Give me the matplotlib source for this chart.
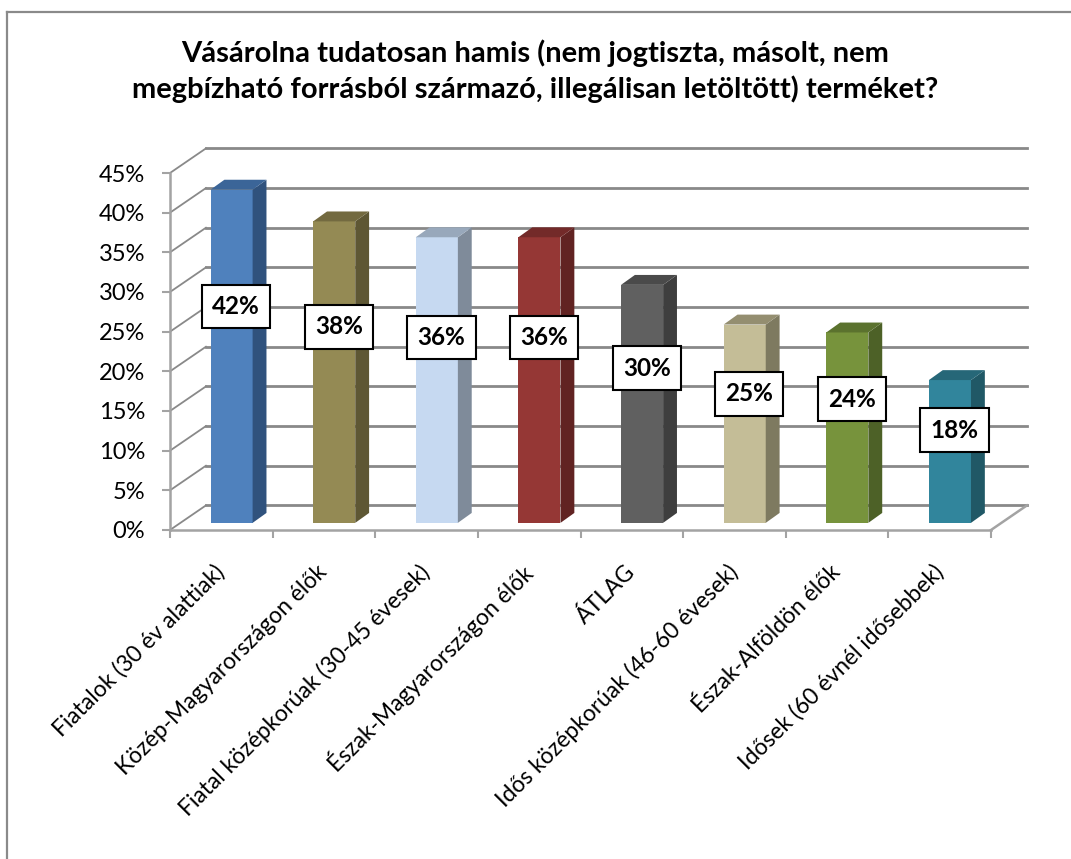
import matplotlib
matplotlib.use("Agg")
import matplotlib.pyplot as plt
from matplotlib.patches import Polygon, Rectangle
from matplotlib.lines import Line2D

plt.rcParams['font.family'] = ['Lato', 'DejaVu Sans']

title = ("Vásárolna tudatosan hamis (nem jogtiszta, másolt, nem\n"
         "megbízható forrásból származó, illegálisan letöltött) terméket?")
categories = ["Fiatalok (30 év alattiak)", "Közép-Magyarországon élők",
              "Fiatal középkorúak (30-45 évesek)", "Észak-Magyarországon élők",
              "ÁTLAG", "Idős középkorúak (46-60 évesek)", "Észak-Alföldön élők",
              "Idősek (60 évnél idősebbek)"]
values = [42, 38, 36, 36, 30, 25, 24, 18]
front_colors = ["#4f81bd", "#948a54", "#c6d9f1", "#953735",
                "#606060", "#c4bd97", "#77933c", "#31859c"]
side_colors = ["#30527d", "#5e5734", "#7f8b9a", "#612322",
               "#3e3e3e", "#7e7a60", "#4d6127", "#205866"]
top_colors = ["#3b6598", "#736a40", "#98a8bb", "#732a29",
              "#4a4a4a", "#948e70", "#5b722e", "#266778"]
yticks = [0, 5, 10, 15, 20, 25, 30, 35, 40, 45]

grid_c = "#898989"
axis_c = "#a3a3a3"

# depth of the 3d box (category units / percent units)
ddx, ddy = 0.35, 3.1
# bars sit a bit behind the front plane
fdx, fdy = 0.10, 0.9
bw = 0.41
bdx, bdy = 0.135, 1.25

fig = plt.figure(figsize=(10.71, 8.59), dpi=100)
ax = fig.add_axes([170 / 1071, 1 - 530 / 859, 821 / 1071, 357 / 859])
ax.set_xlim(0, len(categories))
ax.set_ylim(0, 45)
n = len(categories)

# back wall, side wall and floor
for y in yticks:
    ax.add_line(Line2D([ddx, n + ddx], [y + ddy, y + ddy], color=grid_c, lw=2.0, zorder=1, clip_on=False))
    ax.add_line(Line2D([0, ddx], [y, y + ddy], color=grid_c, lw=1.3, zorder=1, clip_on=False))
ax.add_line(Line2D([n, n + ddx], [0, ddy], color=axis_c, lw=1.8, zorder=1, clip_on=False))

# bars
for i, v in enumerate(values):
    xl = i + 0.5 - bw / 2 + fdx
    xr = xl + bw
    b = fdy
    ax.add_patch(Rectangle((xl, b), bw, v, facecolor=front_colors[i], edgecolor="none",
                           zorder=3, clip_on=False))
    ax.add_patch(Polygon([(xr, b), (xr + bdx, b + bdy), (xr + bdx, b + bdy + v), (xr, b + v)],
                         facecolor=side_colors[i], edgecolor="none", zorder=3, clip_on=False))
    ax.add_patch(Polygon([(xl, b + v), (xr, b + v), (xr + bdx, b + v + bdy), (xl + bdx, b + v + bdy)],
                         facecolor=top_colors[i], edgecolor="none", zorder=3, clip_on=False))
    ax.text(xl + bw / 2 + bdx / 3, b + 0.65 * v, f"{v}%", ha="center", va="center",
            fontsize=17.5, fontweight="bold", zorder=5,
            bbox=dict(boxstyle="square,pad=0.42", facecolor="white", edgecolor="black", lw=1.5))

# axes
for s in ["top", "right"]:
    ax.spines[s].set_visible(False)
for s in ["left", "bottom"]:
    ax.spines[s].set_color(axis_c)
    ax.spines[s].set_linewidth(1.8)
ax.set_yticks(yticks)
ax.set_yticklabels([f"{t}%" for t in yticks])
ax.tick_params(axis="y", direction="out", length=6, width=1.5, color=axis_c,
               labelsize=17, pad=12)
ax.set_xticks(range(n + 1))
ax.set_xticklabels([])
ax.tick_params(axis="x", which="major", direction="out", length=6, width=1.5, color=axis_c)
ax.set_xticks([i + 0.5 for i in range(n)], minor=True)
ax.set_xticklabels(categories, minor=True, rotation=45, ha="right", va="center",
                   rotation_mode="anchor", fontsize=16.5)
ax.tick_params(axis="x", which="minor", length=0, pad=28)
ax.patch.set_visible(False)

fig.text(535 / 1071, 1 - 71 / 859, title, ha="center", va="center", fontsize=21,
         fontweight="bold", linespacing=1.35)

# chart area border (left and top edges visible)
fig.add_artist(Line2D([7 / 1071, 7 / 1071], [0, 1 - 12 / 859], color="#8a8a8a", lw=1.6))
fig.add_artist(Line2D([7 / 1071, 1], [1 - 12 / 859, 1 - 12 / 859], color="#8a8a8a", lw=1.6))

fig.savefig("out.png", dpi=100)
